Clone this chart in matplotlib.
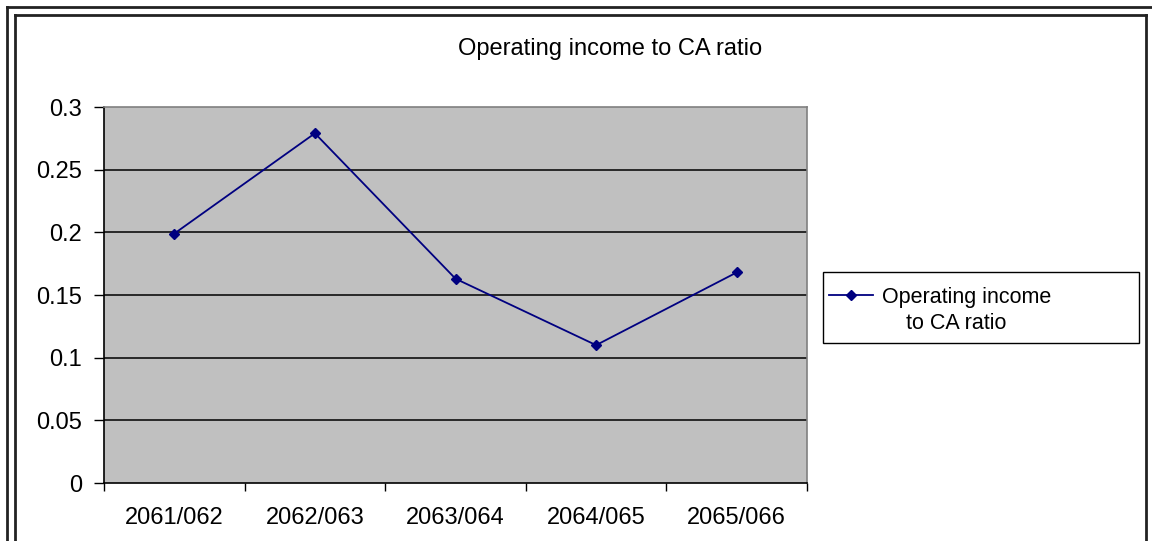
import matplotlib
matplotlib.use("Agg")
import matplotlib.pyplot as plt
from matplotlib.lines import Line2D
from matplotlib.patches import Rectangle

# Operating income to CA ratio by fiscal year
years = ["2061/062", "2062/063", "2063/064", "2064/065", "2065/066"]
ratio = [0.199, 0.279, 0.163, 0.110, 0.168]
y_ticks = [0, 0.05, 0.1, 0.15, 0.2, 0.25, 0.3]
y_labels = ["0", "0.05", "0.1", "0.15", "0.2", "0.25", "0.3"]
series_name = ["Operating income", "to CA ratio"]

W, H = 1152, 541
plt.rcParams["font.family"] = ["Liberation Sans", "DejaVu Sans"]

fig = plt.figure(figsize=(W / 100, H / 100), dpi=100)
fig.patch.set_facecolor("white")


def fx(px):
    return px / W


def fy(py):
    return 1 - py / H


# double frame around the chart
for xs, ys in [
    ([7, 7], [H + 5, 7]), ([7, W + 5], [7, 7]),
    ([14.5, 14.5], [H + 5, 15]), ([14.5, 1146], [15, 15]), ([1146, 1146], [15, H + 5]),
]:
    fig.add_artist(Line2D([fx(x) for x in xs], [fy(y) for y in ys],
                          transform=fig.transFigure, color="#222222", lw=2))

ax = fig.add_axes([fx(104), fy(483), fx(807) - fx(104), fy(107) - fy(483)])
ax.set_facecolor("#c0c0c0")

x = list(range(len(years)))
line, = ax.plot(x, ratio, color="#000080", lw=1.3, marker="D", markersize=5.5,
                markerfacecolor="#000080", markeredgecolor="#000080", zorder=3)

ax.set_xlim(-0.5, len(years) - 0.5)
ax.set_ylim(0, 0.3)

for v in y_ticks[1:-1]:
    ax.axhline(v, color="black", lw=1.1, zorder=1)

ax.set_yticks(y_ticks)
ax.set_yticklabels(y_labels, fontsize=17)
ax.tick_params(axis="y", length=7, width=1, pad=9, color="black")

# category boundaries carry the tick marks, centres carry the labels
ax.set_xticks([i - 0.5 for i in range(len(years) + 1)])
ax.set_xticklabels([])
ax.set_xticks(x, minor=True)
ax.set_xticklabels(years, minor=True, fontsize=17)
ax.tick_params(axis="x", which="major", length=6, width=1, color="black")
ax.tick_params(axis="x", which="minor", length=0, pad=17)

ax.spines["left"].set_color("black")
ax.spines["bottom"].set_color("black")
ax.spines["top"].set_color("#808080")
ax.spines["right"].set_color("#808080")
for s in ax.spines.values():
    s.set_linewidth(1.2)

fig.text(fx(610), fy(54.5), "Operating income to CA ratio", fontsize=17,
         ha="center", va="baseline")

# legend box; the marker sits beside the first line of the name
fig.add_artist(Rectangle((fx(823), fy(343)), fx(1139) - fx(823), fy(272) - fy(343),
                         transform=fig.transFigure, facecolor="white",
                         edgecolor="black", lw=1))
leg = fig.legend([line], [series_name[0]],
                 loc="center left", bbox_to_anchor=(fx(829), fy(297.5)),
                 fontsize=15.5, frameon=False,
                 handlelength=2.05, handletextpad=0.42, borderpad=0,
                 borderaxespad=0)
fig.text(fx(956.5), fy(329), series_name[1], fontsize=15.5,
         ha="center", va="baseline")

fig.savefig("out.png", dpi=100)
